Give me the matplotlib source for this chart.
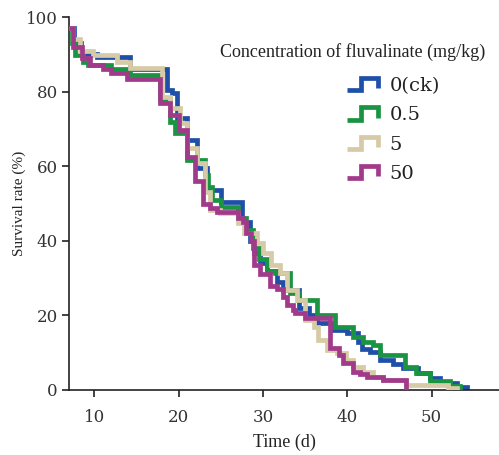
import matplotlib
matplotlib.use("Agg")
import matplotlib.pyplot as plt
from matplotlib.lines import Line2D
from matplotlib.legend_handler import HandlerBase

# ---- data ----
labels = ["0(ck)", "0.5", "5", "50"]
colors = ["#1f50a8", "#1a9442", "#d6cba6", "#a23a8c"]

t_ck = [7, 7.6, 8.4, 10.3, 14.2, 18.6, 19.2, 19.8, 21, 22.2, 23.4, 25, 27.5, 28.5, 29, 29.7,
        30.5, 31.7, 32.4, 34.3, 35.5, 36.4, 38.2, 40, 41.3, 41.8, 42.7, 43.9, 45.4, 46.6,
        48.4, 49.8, 51, 53, 54.2]
s_ck = [97, 93, 90, 89.3, 86, 80.5, 79.6, 73, 67, 59.5, 53.6, 50.4, 45, 40, 36.7, 34,
        32, 29, 26.8, 22, 20, 18, 16, 15.3, 13, 11, 10.2, 8, 7, 5.9,
        4.6, 3.2, 1.9, 0.8, 0]

t_05 = [7, 7.3, 7.7, 8.7, 9.2, 12, 14.2, 17.8, 19, 19.6, 21, 23.1, 23.5, 24, 25, 27, 28,
        28.8, 29.5, 30.5, 31.4, 33.2, 34.2, 36.4, 38.5, 40.7, 41.9, 43, 43.9, 46.9, 48.2,
        49.8, 52.2, 53.4]
s_05 = [97, 93, 89.8, 88, 87, 86, 84.5, 78, 71.8, 69, 61.6, 57.6, 54.4, 51, 49, 46, 43,
        38, 35, 32, 31.4, 26, 24, 20, 17, 14.2, 12.9, 12, 9.4, 6.2, 4.6,
        2.5, 1, 0]

t_5 = [7, 7.5, 8.3, 9.8, 12.7, 14.2, 18, 19, 20.2, 21, 22.2, 23.1, 23.7, 24.9, 27, 27.7,
       29.3, 30, 31, 32, 32.8, 34, 35, 36, 36.5, 37.6, 38.8, 39.8, 40.7, 41.9, 43, 44.2,
       47, 52, 53]
s_5 = [97, 94, 91, 89.8, 88, 86.3, 78.5, 75.6, 71.6, 65, 60.8, 53, 48.3, 47.4, 44.8, 42,
       39.4, 36.7, 33.5, 31.4, 26.8, 24, 18.8, 17, 13.4, 10.7, 9.9, 8, 6.2, 4.8, 3.5, 2.7,
       1.3, 0.5, 0]

t_50 = [7, 7.5, 8.5, 9.5, 11, 12, 13.9, 17.8, 19, 20, 21, 22, 22.9, 23.7, 24.5, 27, 27.6,
        28, 28.6, 29, 29.7, 30.8, 31.7, 32.4, 32.9, 33.6, 33.8, 35, 38, 39, 39.5, 40.7,
        41.5, 42.4, 44.2, 47]
s_50 = [97, 92, 89, 87, 86, 85, 83.4, 77, 73.7, 69.7, 62.5, 56, 50, 48.8, 47.7, 46, 45,
        42, 40, 33.5, 31, 28, 27, 25, 22.8, 21.4, 20.6, 19.3, 11.3, 9.4, 7.2, 4.8,
        4.3, 3.5, 2.7, 0]

series = [(t_ck, s_ck), (t_05, s_05), (t_5, s_5), (t_50, s_50)]
draw_order = [2, 1, 0, 3]

x_ticks = [10, 20, 30, 40, 50]
y_ticks = [0, 20, 40, 60, 80, 100]

# ---- figure ----
fig = plt.figure(figsize=(4.99, 4.55), dpi=100)
ax = fig.add_axes([69 / 499, 1 - 390 / 455, 1 - 69 / 499, (390 - 17) / 455])

lines = {}
for i in draw_order:
    t, s = series[i]
    ln, = ax.plot(t, s, drawstyle="steps-post", color=colors[i], lw=3.4,
                  solid_joinstyle="miter", solid_capstyle="butt", zorder=2 + i)
    lines[i] = ln

ax.set_xlim(7, 58)
ax.set_ylim(0, 100)
ax.set_xticks(x_ticks)
ax.set_yticks(y_ticks)
for sp in ["top", "right"]:
    ax.spines[sp].set_visible(False)
for sp in ["left", "bottom"]:
    ax.spines[sp].set_linewidth(1.2)
    ax.spines[sp].set_color("#222222")
ax.tick_params(direction="out", length=5, width=1.2, color="#222222",
               labelsize=12, labelcolor="#333333")
ax.tick_params(axis="x", pad=9)
ax.tick_params(axis="y", pad=3)
for lab in ax.get_xticklabels() + ax.get_yticklabels():
    lab.set_family("DejaVu Serif")

ax.set_xlabel("Time (d)", family="Liberation Serif", fontsize=13, color="#222222", labelpad=5)
ax.set_ylabel("Survival rate (%)", family="Liberation Serif", fontsize=11, color="#222222", labelpad=0)


class StepHandler(HandlerBase):
    def create_artists(self, legend, orig_handle, xdescent, ydescent, width, height,
                       fontsize, trans):
        x0 = -xdescent
        y0 = -ydescent
        xs = [x0, x0 + width * 0.45, x0 + width * 0.45, x0 + width, x0 + width]
        ys = [y0, y0, y0 + height, y0 + height, y0 + height * 0.15]
        ln = Line2D(xs, ys, color=orig_handle.get_color(), lw=3.4,
                    solid_joinstyle="miter", solid_capstyle="butt")
        ln.set_transform(trans)
        return [ln]


fig.text(220 / 499, 1 - 52 / 455, "Concentration of fluvalinate (mg/kg)",
         family="Liberation Serif", fontsize=13, color="#222222", va="center", ha="left")

handles = [lines[i] for i in range(4)]
leg = ax.legend(handles, labels, handler_map={Line2D: StepHandler()},
                loc="upper left", bbox_to_anchor=(347 / 499, 1 - 77 / 455),
                bbox_transform=fig.transFigure, frameon=False,
                prop={"family": "DejaVu Serif", "size": 14},
                handlelength=1.6, handleheight=0.6, handletextpad=0.6,
                labelspacing=0.58, borderpad=0, borderaxespad=0)
for txt in leg.get_texts():
    txt.set_color("#222222")

fig.savefig("out.png", dpi=100)
